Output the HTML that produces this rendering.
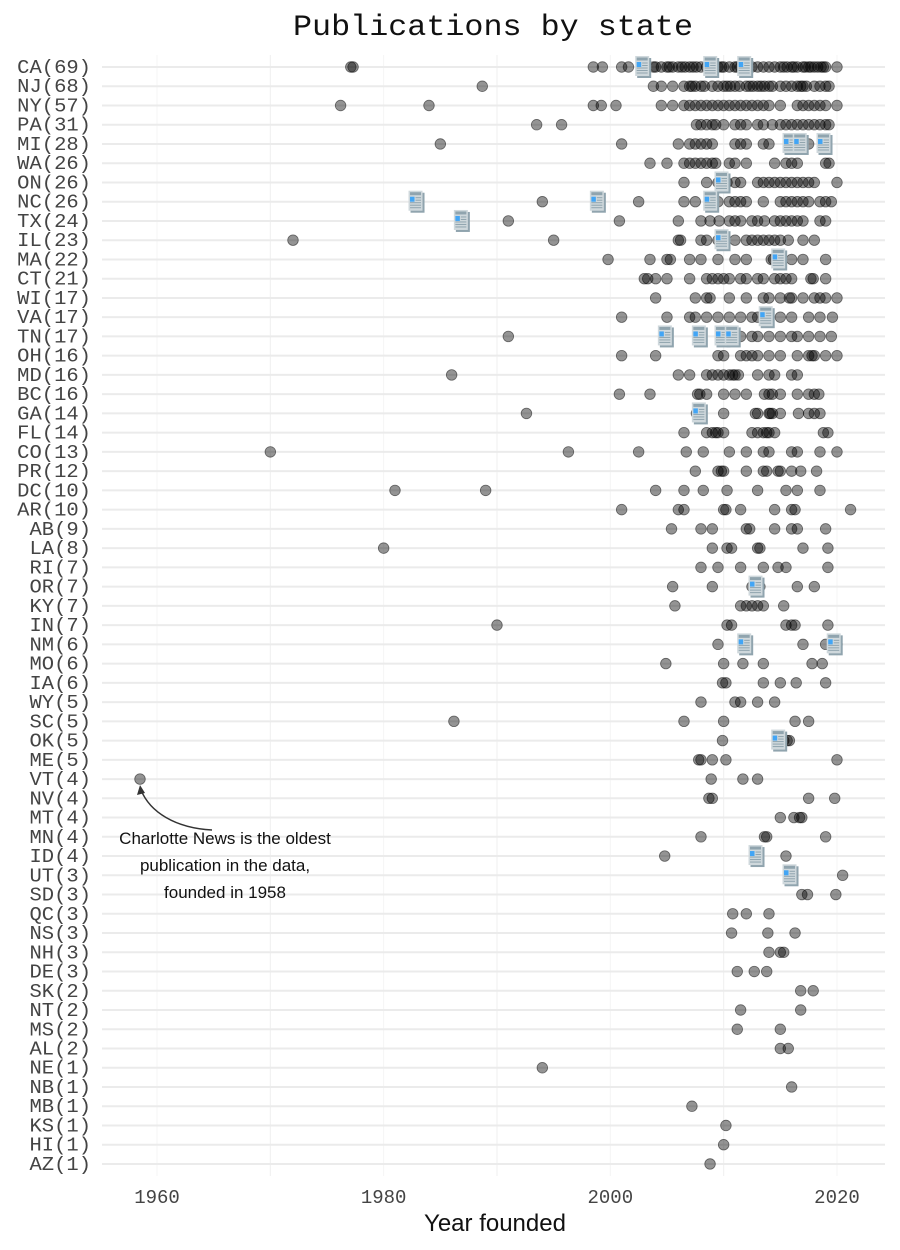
<!DOCTYPE html>
<html><head><meta charset="utf-8"><style>
body{margin:0;background:#fff;}
svg{display:block;}
</style></head><body>
<svg id="chart" width="900" height="1250" xmlns="http://www.w3.org/2000/svg">
<text x="493" y="35" text-anchor="middle" font-family="Liberation Mono, monospace" font-size="30" textLength="400" lengthAdjust="spacingAndGlyphs" fill="#111">Publications by state</text>
<g id="grid"></g><g id="labels"></g><g id="marks"></g><g id="icons"></g>
<text x="495" y="1231" text-anchor="middle" font-family="Liberation Sans, sans-serif" font-size="24" fill="#111">Year founded</text>
<g font-family="Liberation Sans, sans-serif" font-size="17" fill="#111" text-anchor="middle">
<text x="225" y="844">Charlotte News is the oldest</text>
<text x="225" y="871">publication in the data,</text>
<text x="225" y="898">founded in 1958</text>
</g>
<path d="M212,830 C175,828 150,812 141,790" fill="none" stroke="#333" stroke-width="1.5"/>
<path d="M140,785 L137,795 L145,793 Z" fill="#333"/>
</svg>
<script>
const states=["CA(69)","NJ(68)","NY(57)","PA(31)","MI(28)","WA(26)","ON(26)","NC(26)","TX(24)","IL(23)","MA(22)","CT(21)","WI(17)","VA(17)","TN(17)","OH(16)","MD(16)","BC(16)","GA(14)","FL(14)","CO(13)","PR(12)","DC(10)","AR(10)","AB(9)","LA(8)","RI(7)","OR(7)","KY(7)","IN(7)","NM(6)","MO(6)","IA(6)","WY(5)","SC(5)","OK(5)","ME(5)","VT(4)","NV(4)","MT(4)","MN(4)","ID(4)","UT(3)","SD(3)","QC(3)","NS(3)","NH(3)","DE(3)","SK(2)","NT(2)","MS(2)","AL(2)","NE(1)","NB(1)","MB(1)","KS(1)","HI(1)","AZ(1)"];
const years=[
[1977.1,1977.3,1998.5,1999.3,2001,2001.6,2003.8,2004,2004.5,2005,2005.2,2005.5,2006,2006.3,2006.6,2007,2007.3,2007.6,2008,2008.5,2009.5,2009.8,2010,2010.5,2011,2011.2,2011.5,2012,2012.5,2013,2013.5,2014,2014.5,2015,2015.3,2015.6,2016,2016.2,2016.5,2017,2017.2,2017.5,2017.7,2018,2018.3,2018.6,2018.8,2019,2020],
[1988.7,2003.8,2004.5,2005.5,2006.5,2007,2007.2,2007.5,2008,2008.3,2009,2009.5,2010,2010.3,2010.6,2011,2011.4,2012,2012.3,2012.6,2013,2013.3,2013.6,2014,2014.3,2015,2015.5,2016,2016.5,2016.8,2017,2017.3,2018,2018.5,2019,2019.3],
[1976.2,1984,1998.5,1999.2,2000.5,2004.5,2005.5,2006.5,2007,2007.5,2008,2008.5,2009,2009.5,2010,2010.5,2011,2011.5,2012,2012.5,2013,2013.5,2014,2015,2016.5,2017,2017.5,2018,2018.5,2019,2020],
[1993.5,1995.7,2007.6,2008,2008.5,2009,2009.3,2010,2011,2011.5,2012,2013,2013.5,2014.3,2015,2015.5,2016,2016.5,2017,2017.5,2018,2018.5,2019,2019.3],
[1985,2001,2006,2007,2007.5,2008,2008.5,2009,2011,2011.5,2012,2013.5,2014,2017.5],
[2003.5,2005,2006.5,2007,2007.5,2008,2008.5,2009,2009.3,2010.5,2011,2012,2014.5,2015.5,2016,2016.5,2019,2019.3],
[2006.5,2008.5,2009.5,2010.3,2011,2011.5,2013,2013.5,2014,2014.5,2015,2015.5,2016,2016.5,2017,2017.5,2018,2020],
[1994,2002.5,2006.5,2007.5,2009.5,2010.5,2011,2011.5,2012,2013.5,2015,2015.5,2016,2016.5,2017,2017.5,2018.5,2019,2019.5],
[1991,2000.8,2006,2008,2008.8,2009.6,2010.5,2011,2011.5,2012.5,2013,2013.6,2014.5,2015,2015.5,2016,2016.5,2017,2018.5,2019],
[1972,1995,2006,2006.2,2008,2008.5,2009.5,2011,2012,2012.5,2013,2013.5,2014,2014.5,2015,2015.7,2017,2018],
[1999.8,2003.5,2005,2005.3,2007,2008,2009.5,2011,2012,2014.2,2014.4,2016,2017,2019],
[2003,2003.3,2004,2005,2007,2008.5,2009,2009.5,2010,2010.5,2011.5,2012,2013,2013.5,2014.5,2015,2015.5,2016,2017.7,2017.9,2019],
[2004,2007.5,2008.5,2008.8,2010.5,2012,2013.5,2014,2015,2015.8,2016,2017,2018,2018.5,2019,2020],
[2001,2005,2007,2007.5,2008.5,2009.5,2010.5,2011.5,2012.5,2013,2014,2015,2016,2017.5,2018.5,2019.6],
[1991,2011.5,2012.5,2013,2014,2015,2016,2016.5,2017.5,2018.5,2019.5],
[2001,2004,2009.5,2010,2011.5,2012,2012.5,2013,2014,2015,2016.5,2017.5,2017.8,2018,2019,2020],
[1986,2006,2007,2008.5,2009,2009.5,2010,2010.5,2010.8,2011,2011.3,2013,2014,2014.5,2016,2016.5],
[2000.8,2003.5,2007.7,2007.9,2008.5,2010,2011,2012,2013.6,2014,2014.3,2015,2016.5,2017.5,2018,2018.4],
[1992.6,2007.6,2010,2012.8,2013,2014,2014.1,2014.3,2015,2016.6,2017.5,2018,2018.5],
[2006.5,2008.5,2009,2009.3,2009.5,2010,2012.5,2013,2013.5,2013.8,2014,2014.5,2018.8,2019.2],
[1970,1996.3,2002.5,2006.7,2008.2,2010.5,2012,2013.5,2014,2016,2016.5,2018.5,2020],
[2007.5,2009.5,2009.8,2010,2012,2013.5,2013.8,2014.8,2015,2016,2016.8,2018.2],
[1981,1989,2004,2006.5,2008.2,2010.3,2013,2015.5,2016.5,2018.5],
[2001,2006,2006.5,2010,2010.2,2011.5,2014.5,2016,2016.3,2021.2],
[2005.4,2008,2009,2012,2012.3,2014.5,2016,2016.5,2019],
[1980,2009,2010.3,2010.7,2013,2013.2,2017,2019.2],
[2008,2009.5,2011.5,2013.5,2014.8,2015.5,2019.2],
[2005.5,2009,2012.5,2012.7,2013.2,2016.5,2018],
[2005.7,2011.5,2012,2012.5,2013,2013.5,2015.3],
[1990,2010.3,2010.7,2015.5,2016,2016.3,2019.2],
[2009.5,2017,2019,2020],
[2004.9,2010,2011.7,2013.5,2017.8,2018.7],
[2009.9,2010.2,2013.5,2015,2016.4,2019],
[2008,2011,2011.5,2013,2014.5],
[1986.2,2006.5,2010,2016.3,2017.5],
[2009.9,2015.3,2015.6,2015.8],
[2007.8,2008,2009,2010.2,2020],
[1958.5,2008.9,2011.7,2013],
[2008.7,2009,2017.5,2019.8],
[2015,2016.2,2016.7,2016.9],
[2008,2013.6,2013.8,2019],
[2004.8,2013,2015.5],
[2016,2020.5],
[2016.9,2017.4,2019.9],
[2010.8,2012,2014],
[2010.7,2013.9,2016.3],
[2014,2015,2015.3],
[2011.2,2012.7,2013.8],
[2016.8,2017.9],
[2011.5,2016.8],
[2011.2,2015],
[2015,2015.7],
[1994],[2016],[2007.2],[2010.2],[2010],[2008.8]
];
const iconStates=["CA(69)","CA(69)","CA(69)","MI(28)","MI(28)","MI(28)","ON(26)","NC(26)","NC(26)","NC(26)","TX(24)","IL(23)","MA(22)","VA(17)","TN(17)","TN(17)","TN(17)","TN(17)","GA(14)","OR(7)","NM(6)","NM(6)","OK(5)","ID(4)","UT(3)"];
const iconYears=[2002.9,2008.9,2011.9,2015.9,2016.8,2018.9,2009.9,1982.9,1998.9,2008.9,1986.9,2009.9,2014.9,2013.8,2004.9,2007.9,2009.9,2010.8,2007.9,2012.9,2011.9,2019.8,2014.9,2012.9,2015.9];
const xTicks=[1960,1980,2000,2020];
const xMinor=[1970,1990,2010];

const NS="http://www.w3.org/2000/svg";
const xS=y=>157+(y-1960)*11.333;
const yS=i=>67+i*19.245;
function mk(tag,attrs,parent){const e=document.createElementNS(NS,tag);for(const k in attrs)e.setAttribute(k,attrs[k]);parent.appendChild(e);return e;}
const grid=document.getElementById('grid'),labels=document.getElementById('labels'),marks=document.getElementById('marks'),icons=document.getElementById('icons'),svg=document.getElementById('chart');
xMinor.forEach(t=>{const l=mk('line',{x1:xS(t),x2:xS(t),y1:55,y2:1176,stroke:'#efefef','stroke-width':1},grid);

});
xTicks.forEach(t=>{const l=mk('line',{x1:xS(t),x2:xS(t),y1:55,y2:1176,stroke:'#f4f4f4','stroke-width':1},grid);


const tx=mk('text',{x:xS(t),y:1203,'text-anchor':'middle','font-family':'Liberation Mono, monospace','font-size':19,fill:'#444'},svg);
tx.textContent=t;

});
states.forEach((s,i)=>{const y=yS(i);
const l=mk('line',{x1:102,x2:885,y1:y,y2:y,stroke:'#ebebeb','stroke-width':2},grid);


const t=mk('text',{x:91,y:y+6,'text-anchor':'end','font-family':'Liberation Mono, monospace','font-size':19,fill:'#444',textLength:12.3*s.length,lengthAdjust:'spacingAndGlyphs'},labels);
t.textContent=s;


years[i].forEach(v=>{const c=mk('circle',{cx:xS(v),cy:y,r:5.3,fill:'rgba(0,0,0,0.42)',stroke:'rgba(0,0,0,0.5)','stroke-width':0.8},marks);

});});
iconStates.forEach((s,j)=>{const i=states.indexOf(s);const x=xS(iconYears[j]),y=yS(i);
const g=mk('g',{transform:`translate(${x-8},${y-11})`},icons);


mk('rect',{x:2,y:2,width:14,height:20,fill:'#90a4ae'},g);
mk('rect',{x:0,y:0,width:14,height:20,fill:'#cfd8dc'},g);
mk('rect',{x:1.5,y:1.5,width:11,height:3,fill:'#90a4ae'},g);
mk('rect',{x:1.5,y:6,width:4.5,height:5,fill:'#42a5f5'},g);
[6.5,9,11.5,14,16.5].forEach((yy,k)=>mk('rect',{x:k<2?7:1.5,y:yy,width:k<2?5.5:11,height:1,fill:'#90a4ae'},g));});
</script>
</body></html>
